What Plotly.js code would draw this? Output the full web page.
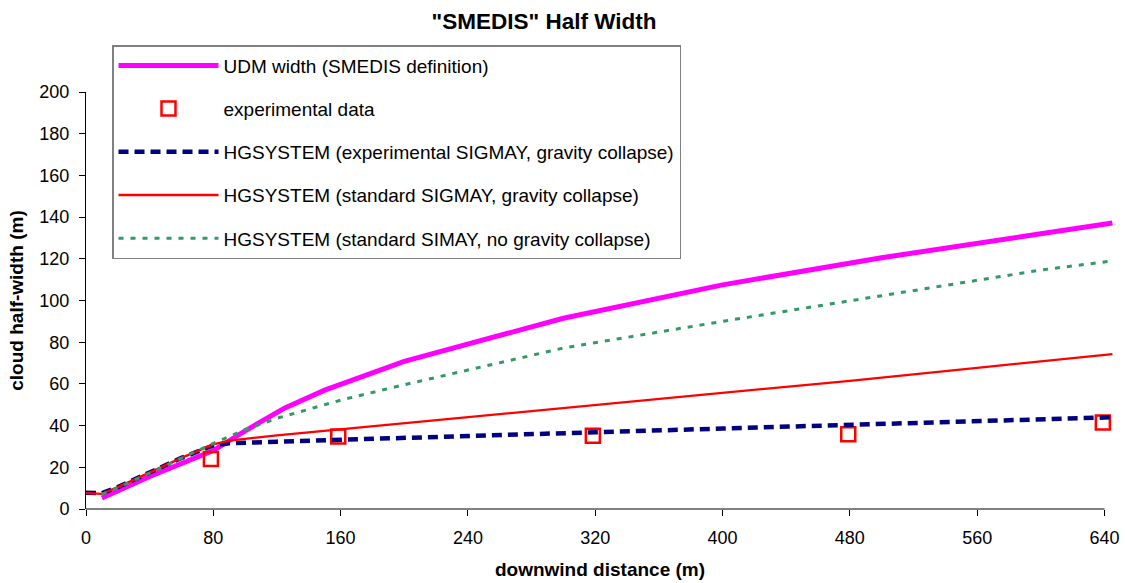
<!DOCTYPE html>
<html>
<head>
<meta charset="utf-8">
<script src="https://cdn.plot.ly/plotly-3.0.1.min.js"></script>
<style>
html,body{margin:0;padding:0;background:#fff;}
#chart{width:1125px;height:583px;}
</style>
</head>
<body>
<div id="chart"></div>
<script>
// ---- data ----
const udmX = [10, 40, 80, 100, 125, 150, 200, 300, 400, 500, 600, 645];
const udmY = [5.3, 15.6, 28, 37.5, 48.5, 57, 70.8, 91.5, 107.5, 120.5, 132, 137.2];

const expX = [78.5, 158.5, 318.5, 479, 639];
const expY = [24, 34.8, 35.1, 35.9, 41.5];

const hgExpX = [0, 10, 20, 40, 60, 80, 90, 120, 160, 200, 240, 320, 400, 480, 560, 645];
const hgExpY = [7.8, 7.6, 10.5, 17.5, 24.5, 30.5, 31.5, 32.3, 33.3, 34.1, 35, 36.8, 38.6, 40.5, 42.3, 44];

const hgStdX = [0, 10, 20, 40, 60, 80, 90, 120, 160, 200, 240, 320, 400, 480, 560, 645];
const hgStdY = [7.6, 7.3, 10.5, 17.5, 24.5, 31, 32.8, 35.3, 38.2, 41.2, 44.2, 50, 55.6, 61.5, 67.7, 74.3];

const hgNoGX = [10, 20, 40, 60, 80, 100, 120, 160, 200, 300, 400, 500, 600, 645];
const hgNoGY = [7, 10.2, 17.2, 24.5, 31.5, 38, 43.5, 52.2, 59.6, 77.2, 90, 102.3, 114.6, 119];

const xTicks = [0, 80, 160, 240, 320, 400, 480, 560, 640];
const yTicks = [0, 20, 40, 60, 80, 100, 120, 140, 160, 180, 200];

const names = [
  'UDM width (SMEDIS definition)',
  'experimental data',
  'HGSYSTEM (experimental SIGMAY, gravity collapse)',
  'HGSYSTEM (standard SIGMAY, gravity collapse)',
  'HGSYSTEM (standard SIMAY, no gravity collapse)'
];

const FONT = 'Liberation Sans, Arial, sans-serif';

const traces = [
  {x: udmX, y: udmY, name: names[0], mode: 'lines', legendgroup: 'g1',
   line: {color: '#FF00FF', width: 5}},
  {x: expX, y: expY, name: names[1], mode: 'markers', legendgroup: 'g2',
   marker: {symbol: 'square-open', size: 14, color: '#FF0000', line: {width: 2.5, color: '#FF0000'}}},
  {x: hgExpX, y: hgExpY, name: names[2], mode: 'lines', legendgroup: 'g3',
   line: {color: '#000080', width: 4.5, dash: '10px,6px'}},
  {x: hgStdX, y: hgStdY, name: names[3], mode: 'lines', legendgroup: 'g4',
   line: {color: '#FF0000', width: 2.3}},
  {x: hgNoGX, y: hgNoGY, name: names[4], mode: 'lines', legendgroup: 'g5',
   line: {color: '#339966', width: 3, dash: '5px,7px'}}
];

const layout = {
  width: 1125, height: 583,
  paper_bgcolor: '#ffffff', plot_bgcolor: '#ffffff',
  font: {family: FONT, size: 18, color: '#000'},
  margin: {l: 86, r: 11, t: 92, b: 74},
  title: {text: '<b>"SMEDIS" Half Width</b>', font: {family: FONT, size: 22.5, color: '#000'},
          xref: 'container', yref: 'container', x: 0.4836, y: 0.964, xanchor: 'center', yanchor: 'middle'},
  xaxis: {
    range: [0, 646], tickvals: xTicks, ticktext: xTicks.map(String),
    ticks: 'outside', ticklen: 6, tickcolor: '#000', tickwidth: 1,
    showline: false, showgrid: false, zeroline: false,
    tickfont: {family: FONT, size: 18, color: '#000'},
    ticklabelstandoff: 6,
    title: {text: '<b>downwind distance (m)</b>', font: {family: FONT, size: 19, color: '#000'}, standoff: 16}
  },
  yaxis: {
    range: [0, 200], tickvals: yTicks, ticktext: yTicks.map(String),
    ticks: 'outside', ticklen: 6, tickcolor: '#000', tickwidth: 1,
    showline: true, linecolor: '#000', linewidth: 1, mirror: false,
    showgrid: false, zeroline: false,
    tickfont: {family: FONT, size: 18, color: '#000'},
    ticklabelstandoff: 6,
    title: {text: '<b>cloud half-width (m)</b>', font: {family: FONT, size: 19, color: '#000'}, standoff: 10}
  },
  shapes: [
    {type: 'line', xref: 'x', yref: 'paper', x0: xTicks[0], x1: xTicks[xTicks.length - 1], y0: 0, y1: 0,
     line: {color: '#000', width: 1}, layer: 'above'}
  ],
  showlegend: true,
  legend: {
    x: 0.0253, y: 1.1126, xanchor: 'left', yanchor: 'top',
    bgcolor: '#ffffff', bordercolor: '#808080', borderwidth: 1.5,
    font: {family: FONT, size: 19, color: '#000'},
    itemwidth: 100, tracegroupgap: 15.5, traceorder: 'grouped',
    itemclick: false, itemdoubleclick: false
  }
};

Plotly.newPlot('chart', traces, layout, {displayModeBar: false, staticPlot: true});
</script>
</body>
</html>
